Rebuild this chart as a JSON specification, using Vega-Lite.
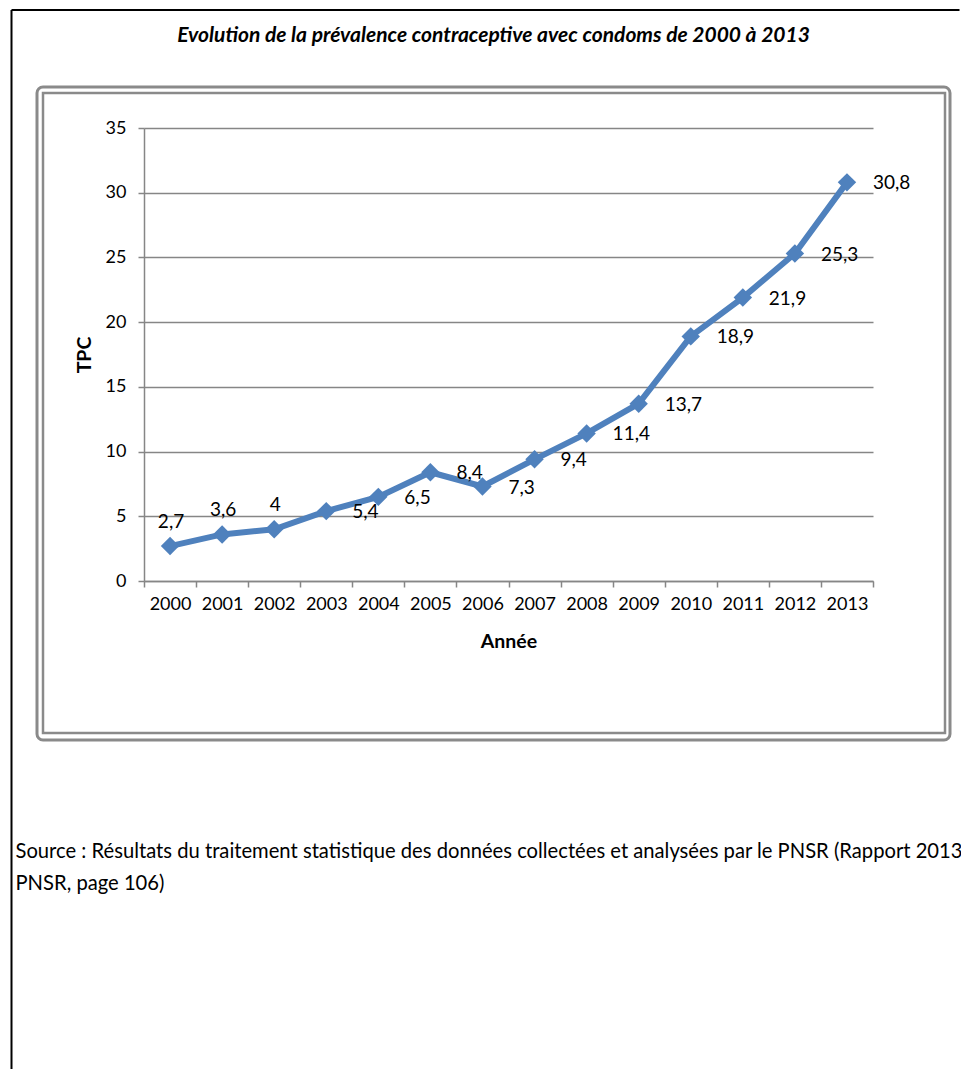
{
  "$schema": "https://vega.github.io/schema/vega-lite/v6.json",
  "background": "white",
  "padding": {"left": 10, "top": 9, "right": 0, "bottom": 0},
  "config": {
    "font": "Lato",
    "view": {"stroke": null},
    "locale": {"number": {"decimal": ",", "thousands": " ", "grouping": [3], "currency": ["", " €"]}},
    "title": {"color": "black"}
  },
  "spacing": 101,
  "bounds": "flush",
  "vconcat": [
    {
      "width": 913,
      "height": 653,
      "view": {"stroke": "#8a8a8a", "strokeWidth": 3, "cornerRadius": 6},
      "title": {
        "text": "Evolution de la prévalence contraceptive avec condoms de 2000 à 2013",
        "fontSize": 21,
        "fontStyle": "italic",
        "fontWeight": "bold",
        "anchor": "middle",
        "frame": "group",
        "offset": 41,
        "color": "black"
      },
      "layer": [
        {
          "data": {
            "values": [
              {"annee": 2000, "tpc": 2.7},
              {"annee": 2001, "tpc": 3.6},
              {"annee": 2002, "tpc": 4},
              {"annee": 2003, "tpc": 5.4},
              {"annee": 2004, "tpc": 6.5},
              {"annee": 2005, "tpc": 8.4},
              {"annee": 2006, "tpc": 7.3},
              {"annee": 2007, "tpc": 9.4},
              {"annee": 2008, "tpc": 11.4},
              {"annee": 2009, "tpc": 13.7},
              {"annee": 2010, "tpc": 18.9},
              {"annee": 2011, "tpc": 21.9},
              {"annee": 2012, "tpc": 25.3},
              {"annee": 2013, "tpc": 30.8}
            ]
          },
          "encoding": {
            "x": {
              "field": "annee",
              "type": "ordinal",
              "scale": {"type": "band", "range": [107, 836], "paddingInner": 0, "paddingOuter": 0},
              "axis": {
                "title": "Année",
                "titleFontWeight": "bold",
                "titleFontSize": 19.5,
                "titleColor": "black",
                "titlePadding": 19,
                "labelFontSize": 18,
                "labelColor": "black",
                "labelAngle": 0,
                "labelPadding": 8,
                "tickBand": "extent",
                "tickSize": 6,
                "tickColor": "#868686",
                "tickWidth": 1.5,
                "domainColor": "#868686",
                "domainWidth": 1.5,
                "grid": false,
                "offset": -159
              }
            },
            "y": {
              "field": "tpc",
              "type": "quantitative",
              "scale": {"domain": [0, 35], "range": [494, 41], "nice": false, "zero": true},
              "axis": {
                "title": "TPC",
                "titleFontWeight": "bold",
                "titleFontSize": 19.5,
                "titleColor": "black",
                "titlePadding": 11,
                "labelFontSize": 18,
                "labelColor": "black",
                "labelPadding": 12,
                "values": [0, 5, 10, 15, 20, 25, 30, 35],
                "format": "d",
                "tickSize": 6,
                "tickColor": "#868686",
                "tickWidth": 1.5,
                "domainColor": "#868686",
                "domainWidth": 1.5,
                "grid": true,
                "gridColor": "#868686",
                "gridWidth": 1.5,
                "offset": -107
              }
            }
          },
          "layer": [
            {"mark": {"type": "line", "color": "#4F81BD", "strokeWidth": 6}},
            {"mark": {"type": "point", "shape": "diamond", "filled": true, "size": 340, "color": "#4F81BD", "opacity": 1}},
            {
              "transform": [{"filter": "datum.annee <= 2002"}],
              "mark": {"type": "text", "fontSize": 19, "color": "black", "align": "center", "baseline": "middle", "dy": -24, "dx": 1},
              "encoding": {"text": {"field": "tpc", "type": "quantitative", "format": ".1~f"}}
            },
            {
              "transform": [{"filter": "datum.annee > 2002"}],
              "mark": {"type": "text", "fontSize": 19, "color": "black", "align": "left", "baseline": "middle", "dx": 26, "dy": 1},
              "encoding": {"text": {"field": "tpc", "type": "quantitative", "format": ".1~f"}}
            }
          ]
        },
        {
          "data": {"values": [{}]},
          "mark": {"type": "rect", "filled": false, "stroke": "#8a8a8a", "strokeWidth": 2.5},
          "encoding": {
            "x": {"datum": 0, "type": "quantitative", "scale": {"domain": [0, 1], "range": [6, 908]}, "axis": null},
            "x2": {"datum": 1},
            "y": {"datum": 0, "type": "quantitative", "scale": {"domain": [0, 1], "range": [6, 646]}, "axis": null},
            "y2": {"datum": 1}
          }
        }
      ],
      "resolve": {"scale": {"x": "independent", "y": "independent"}}
    },
    {
      "width": 913,
      "height": 1,
      "data": {"values": []},
      "mark": "text",
      "encoding": {},
      "title": {
        "text": ["Source : Résultats du traitement statistique des données collectées et analysées par le PNSR (Rapport 2013", "PNSR, page 106)"],
        "orient": "bottom",
        "anchor": "start",
        "frame": "group",
        "dx": -21.5,
        "offset": 0,
        "fontSize": 20.2,
        "fontWeight": "normal",
        "lineHeight": 32,
        "color": "black"
      }
    },
    {
      "width": 913,
      "height": 1,
      "data": {"values": [{}]},
      "encoding": {
        "x": {"datum": 0, "type": "quantitative", "scale": {"domain": [0, 1], "range": [-25.5, 922.5]}, "axis": null},
        "y": {"datum": 0, "type": "quantitative", "scale": {"domain": [0, 1], "range": [-933, 126]}, "axis": null}
      },
      "layer": [
        {"mark": {"type": "rule", "color": "black", "strokeWidth": 2}, "encoding": {"y2": {"datum": 1}}},
        {"mark": {"type": "rule", "color": "black", "strokeWidth": 2}, "encoding": {"x2": {"datum": 1}}}
      ]
    }
  ]
}
